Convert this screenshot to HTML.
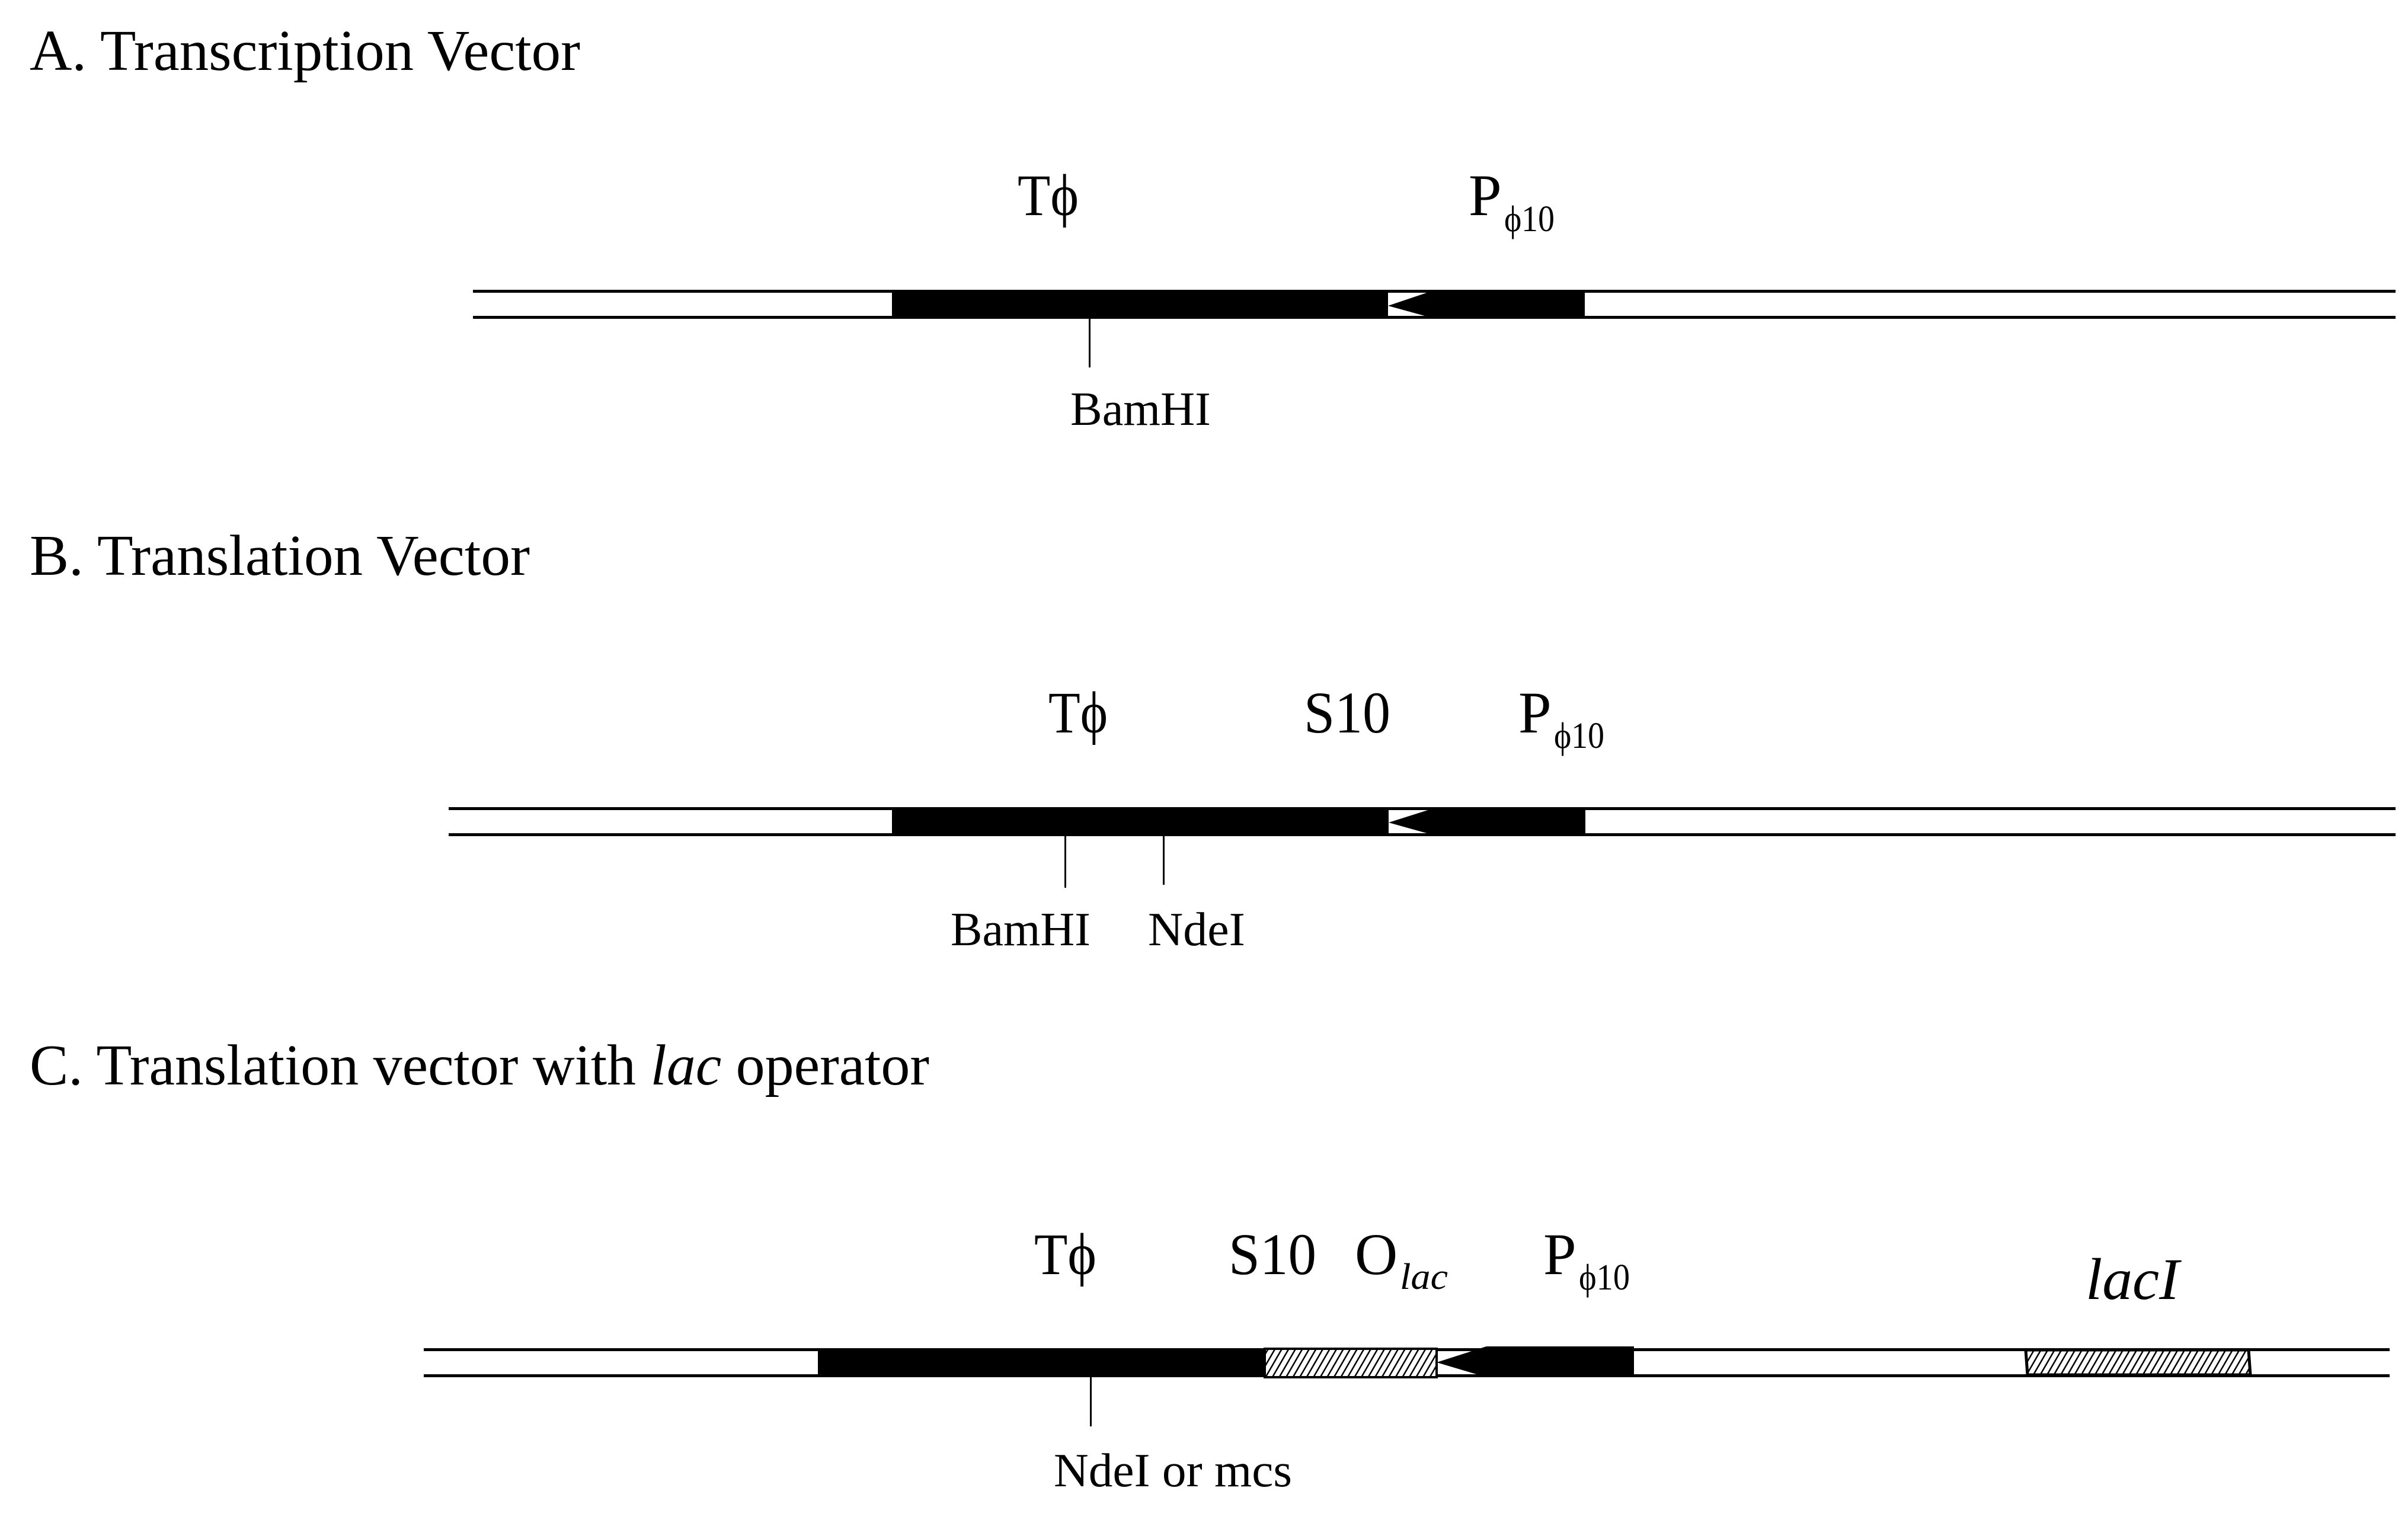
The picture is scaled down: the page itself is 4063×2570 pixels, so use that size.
<!DOCTYPE html>
<html><head><meta charset="utf-8"><style>
html,body{margin:0;padding:0;background:#fff;}
svg{display:block;}
text{font-family:"Liberation Serif","DejaVu Serif",serif;fill:#000;}
</style></head><body>
<svg width="4063" height="2570" viewBox="0 0 4063 2570" xmlns="http://www.w3.org/2000/svg">
<defs>
<pattern id="h" patternUnits="userSpaceOnUse" width="10" height="10" patternTransform="rotate(30)">
<rect width="10" height="10" fill="#fff"/>
<rect x="0" y="0" width="2.5" height="10" fill="#000"/>
</pattern>
</defs>

<!-- Titles -->
<text x="50" y="118" font-size="98" textLength="929" lengthAdjust="spacingAndGlyphs">A. Transcription Vector</text>
<text x="50" y="970" font-size="98" textLength="844" lengthAdjust="spacingAndGlyphs">B. Translation Vector</text>
<text x="50" y="1830" font-size="98" textLength="1518" lengthAdjust="spacingAndGlyphs">C. Translation vector with <tspan font-style="italic">lac</tspan> operator</text>

<!-- A -->
<g>
<rect x="798" y="489" width="3244" height="5"/>
<rect x="798" y="533" width="3244" height="5"/>
<rect x="1505" y="489" width="837" height="49"/>
<polygon points="2342,516 2422,489 2674,489 2674,538 2422,538"/>
<rect x="1837" y="538" width="3" height="82"/>
<text x="1717" y="363" font-size="100" textLength="103" lengthAdjust="spacingAndGlyphs">Tϕ</text>
<text x="2478" y="363" font-size="100">P</text>
<text x="2538" y="390" font-size="62" textLength="85" lengthAdjust="spacingAndGlyphs">ϕ10</text>
<text x="1806" y="717" font-size="80" textLength="237" lengthAdjust="spacingAndGlyphs">BamHI</text>
</g>

<!-- B -->
<g>
<rect x="757" y="1362" width="3285" height="5"/>
<rect x="757" y="1406" width="3285" height="5"/>
<rect x="1505" y="1362" width="838" height="49"/>
<polygon points="2343,1388 2425,1362 2675,1362 2675,1411 2425,1411"/>
<rect x="1796" y="1411" width="3" height="87"/>
<rect x="1962" y="1411" width="3" height="82"/>
<text x="1769" y="1236" font-size="100" textLength="100" lengthAdjust="spacingAndGlyphs">Tϕ</text>
<text x="2200" y="1236" font-size="100" textLength="146" lengthAdjust="spacingAndGlyphs">S10</text>
<text x="2562" y="1236" font-size="100">P</text>
<text x="2622" y="1262" font-size="62" textLength="85" lengthAdjust="spacingAndGlyphs">ϕ10</text>
<text x="1604" y="1595" font-size="80" textLength="236" lengthAdjust="spacingAndGlyphs">BamHI</text>
<text x="1937" y="1595" font-size="80" textLength="164" lengthAdjust="spacingAndGlyphs">NdeI</text>
</g>

<!-- C -->
<g>
<rect x="715" y="2275" width="3317" height="5"/>
<rect x="715" y="2319" width="3317" height="5"/>
<rect x="1380" y="2276" width="756" height="48"/>
<rect x="2134" y="2276" width="290" height="48" fill="url(#h)" stroke="#000" stroke-width="4"/>
<polygon points="2424,2299 2508,2272 2757,2272 2757,2324 2508,2324"/>
<rect x="1839" y="2324" width="3" height="83"/>
<polygon points="3418,2278 3794,2278 3797,2320 3421,2320" fill="url(#h)" stroke="#000" stroke-width="5"/>
<text x="1745" y="2150" font-size="100" textLength="105" lengthAdjust="spacingAndGlyphs">Tϕ</text>
<text x="2073" y="2150" font-size="100" textLength="148" lengthAdjust="spacingAndGlyphs">S10</text>
<text x="2286" y="2150" font-size="100">O</text>
<text x="2362" y="2175" font-size="62" font-style="italic" textLength="81" lengthAdjust="spacingAndGlyphs">lac</text>
<text x="2604" y="2150" font-size="100">P</text>
<text x="2664" y="2176" font-size="62" textLength="86" lengthAdjust="spacingAndGlyphs">ϕ10</text>
<text x="1778" y="2508" font-size="80" textLength="402" lengthAdjust="spacingAndGlyphs">NdeI or mcs</text>
<text x="3519" y="2192" font-size="100" font-style="italic" textLength="158" lengthAdjust="spacingAndGlyphs">lacI</text>
</g>
</svg>
</body></html>
